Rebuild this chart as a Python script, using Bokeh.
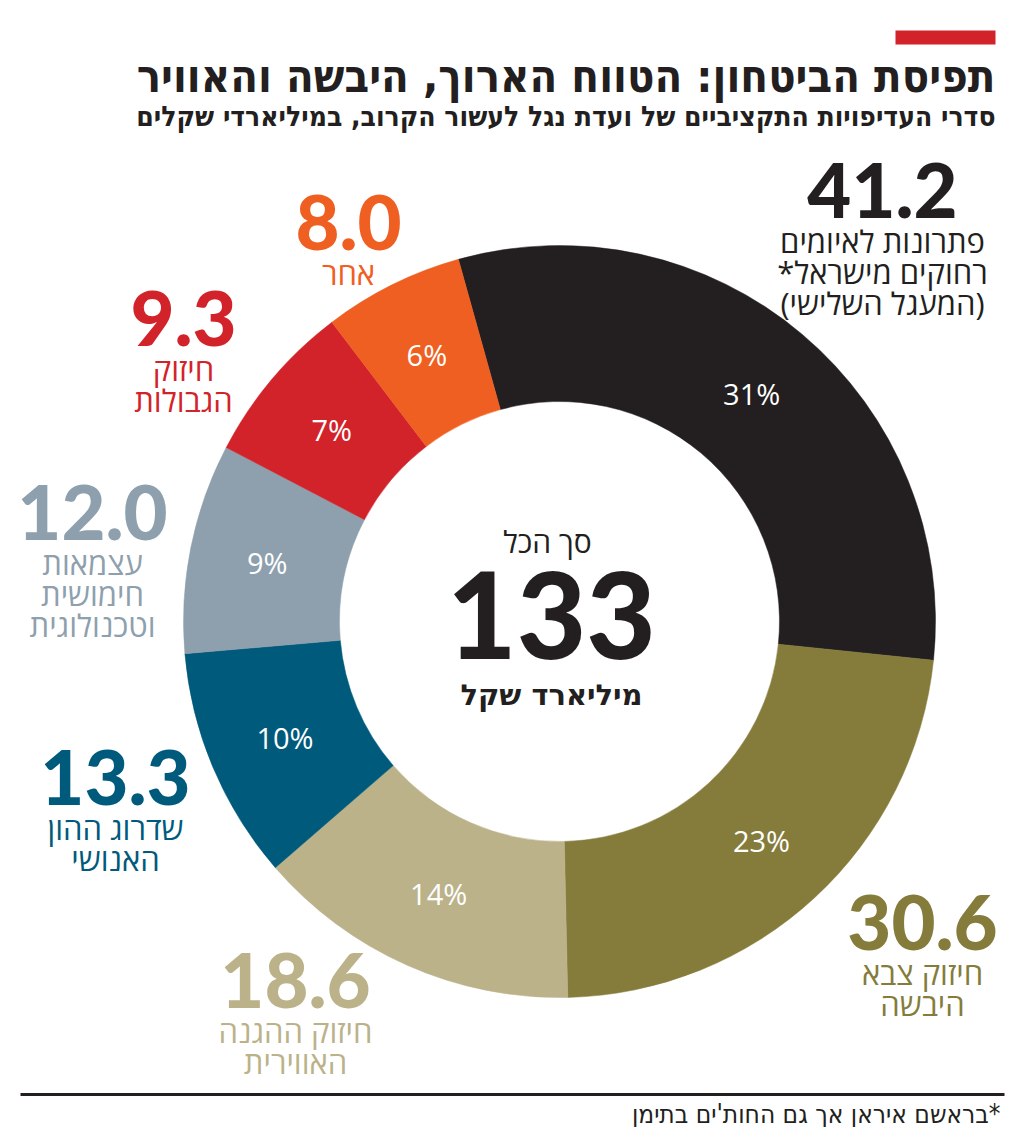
import math
from bokeh.plotting import figure
from bokeh.models import Range1d
from bokeh.core.properties import value
from bokeh.embed import file_html
from bokeh.resources import INLINE

RLM = "\u200F"

# ---- data ----
categories = ["פתרונות לאיומים רחוקים מישראל* (המעגל השלישי)", "חיזוק צבא היבשה",
              "חיזוק ההגנה האווירית", "שדרוג ההון האנושי",
              "עצמאות חימושית וטכנולוגית", "חיזוק הגבולות", "אחר"]
values = [41.2, 30.6, 18.6, 13.3, 12.0, 9.3, 8.0]
value_labels = ["41.2", "30.6", "18.6", "13.3", "12.0", "9.3", "8.0"]
pct_labels = ["31%", "23%", "14%", "10%", "9%", "7%", "6%"]
label_lines = [
    ["פתרונות לאיומים", RLM + "רחוקים מישראל*" + RLM, RLM + "(המעגל השלישי)" + RLM],
    ["חיזוק צבא", "היבשה"],
    ["חיזוק ההגנה", "האווירית"],
    ["שדרוג ההון", "האנושי"],
    ["עצמאות", "חימושית", "וטכנולוגית"],
    ["חיזוק", "הגבולות"],
    ["אחר"],
]
total_label = "133"
colors = ["#231f20", "#857c3c", "#bbb28a", "#005a7c", "#8ea0ad", "#d2232a", "#ef5f22"]

# ---- layout ----
W, H = 1016, 1127
CX, CY = 559, 621
R_OUT, R_IN, R_LAB = 376, 220, 298
START_DEG = 105.6  # math angle where the first slice starts, going clockwise
# anchor (centre x, centre y of big number) for each category label block
label_pos = [(882, 190), (922, 922), (295, 980), (115, 777), (92, 512), (183, 318), (348, 222)]

p = figure(width=W, height=H, output_backend="svg", toolbar_location=None,
           x_range=Range1d(0, W), y_range=Range1d(-H, 0),
           x_axis_type=None, y_axis_type=None, min_border=0)
p.outline_line_color = None
p.grid.visible = False
p.background_fill_color = "white"

total = sum(values)
starts, ends, mids = [], [], []
acc = 0.0
for v in values:
    a0 = math.radians(START_DEG - acc / total * 360)
    acc += v
    a1 = math.radians(START_DEG - acc / total * 360)
    starts.append(a0)
    ends.append(a1)
    mids.append((a0 + a1) / 2)

p.annular_wedge(x=CX, y=-CY, inner_radius=R_IN, outer_radius=R_OUT,
                start_angle=starts, end_angle=ends, direction="clock",
                fill_color=colors, line_color=colors, line_width=0.5)

# percentage labels
px = [CX + R_LAB * math.cos(m) for m in mids]
py = [-CY + R_LAB * math.sin(m) for m in mids]
p.text(x=px, y=py, text=pct_labels, text_color="white", text_font=value("Open Sans"),
       text_font_size="29px", text_align="center", text_baseline="middle")

NUM_FONT = value("Lato Black, Lato")
HEB_FONT = value("Open Sans")

for i in range(len(values)):
    lx, ly = label_pos[i]
    p.text(x=[lx], y=[-ly], text=[value_labels[i]], text_color=colors[i],
           text_font=NUM_FONT, text_font_style="bold", text_font_size="76px",
           text_align="center", text_baseline="middle")
    for j, line in enumerate(label_lines[i]):
        p.text(x=[lx], y=[-(ly + 50 + 31 * j)], text=[line], text_color=colors[i],
               text_font=HEB_FONT, text_font_size="31px",
               text_align="center", text_baseline="middle")

# centre text
p.text(x=[547], y=[-541], text=["סך הכל"], text_color="#231f20", text_font=HEB_FONT,
       text_font_size="30px", text_align="center", text_baseline="middle")
p.text(x=[551], y=[-614], text=[total_label], text_color="#231f20", text_font=NUM_FONT,
       text_font_style="bold", text_font_size="120px", text_align="center", text_baseline="middle")
p.text(x=[551], y=[-694], text=["מיליארד שקל"], text_color="#231f20",
       text_font=value("DejaVu Sans"), text_font_style="bold",
       text_font_size="29px", text_align="center", text_baseline="middle")

# header
p.quad(left=[895], right=[995], top=[-30], bottom=[-44], fill_color="#d2232a", line_color=None)
TITLE_FONT = value("Liberation Sans Narrow, DejaVu Sans Condensed")
p.text(x=[995], y=[-76], text=["תפיסת הביטחון: הטווח הארוך, היבשה והאוויר"], text_color="#231f20",
       text_font=TITLE_FONT, text_font_style="bold", text_font_size="45px",
       text_align="right", text_baseline="middle")
p.text(x=[995], y=[-116], text=["סדרי העדיפויות התקציביים של ועדת נגל לעשור הקרוב, במיליארדי שקלים"],
       text_color="#231f20", text_font=TITLE_FONT, text_font_style="bold", text_font_size="28px",
       text_align="right", text_baseline="middle")

# footer
p.segment(x0=[20], y0=[-1094], x1=[1004], y1=[-1094], line_color="#231f20", line_width=3)
p.text(x=[1000], y=[-1113], text=[RLM + "*בראשם איראן אך גם החות'ים בתימן"], text_color="#231f20",
       text_font=TITLE_FONT, text_font_size="26px", text_align="right", text_baseline="middle")

open("out.html", "w").write(file_html(p, INLINE))
